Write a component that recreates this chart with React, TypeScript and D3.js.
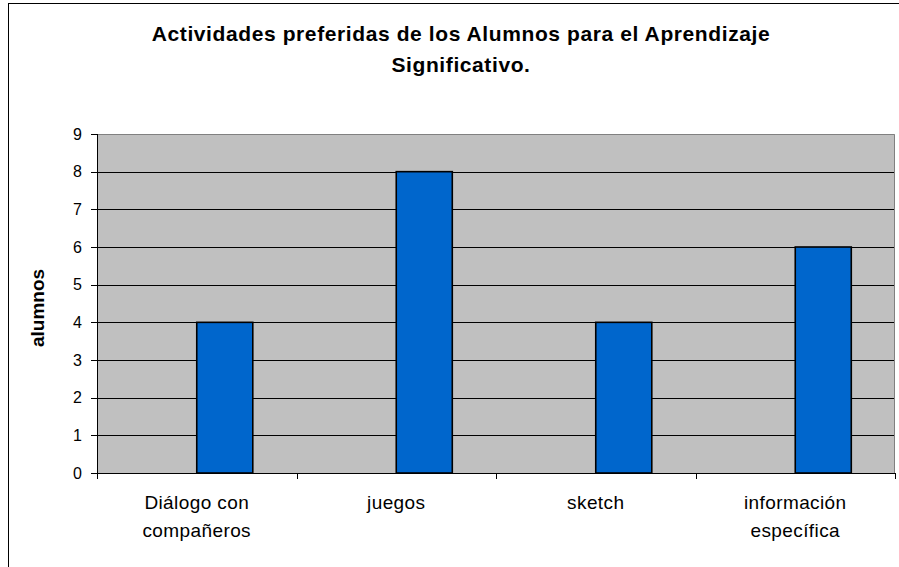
import React from "react";
import * as d3 from "d3";

const categories: string[][] = [
  ["Diálogo con", "compañeros"],
  ["juegos"],
  ["sketch"],
  ["información", "específica"],
];
const values: number[] = [4, 8, 4, 6];
const seriesNames: string[] = ["", "alumnos"];
const yTicks: number[] = [0, 1, 2, 3, 4, 5, 6, 7, 8, 9];
const titleLines: string[] = [
  "Actividades preferidas de los Alumnos para el Aprendizaje",
  "Significativo.",
];
const yAxisLabel = "alumnos";

const W = 899;
const H = 567;
const FONT = "'Liberation Sans', Arial, Helvetica, sans-serif";

export default function App() {
  const left = 97;
  const right = 895;
  const top = 134;
  const bottom = 473;

  const keys = categories.map((c) => c.join(" "));
  const x = d3.scaleBand<string>().domain(keys).range([left, right]).padding(0);
  const x1 = d3
    .scaleBand<string>()
    .domain(seriesNames)
    .range([0, x.bandwidth()])
    .paddingInner(0)
    .paddingOuter(0.78);
  const y = d3.scaleLinear().domain([0, 9]).range([bottom, top]);

  const boundaries = [...keys.map((k) => x(k) as number), right];

  return (
    <svg
      width={W}
      height={H}
      style={{ position: "absolute", left: 0, top: 0, display: "block" }}
      fontFamily={FONT}
    >
      <rect x={0} y={0} width={W} height={H} fill="#ffffff" />
      {/* outer chart border */}
      <rect x={8.5} y={3.5} width={W + 20} height={H + 20} fill="none" stroke="#000" strokeWidth={1} />

      {/* title */}
      {titleLines.map((t, i) => (
        <text
          key={i}
          x={461}
          y={41 + i * 31}
          textAnchor="middle"
          fontSize={21}
          fontWeight="bold"
          letterSpacing={0.6}
          fill="#000"
        >
          {t}
        </text>
      ))}

      {/* plot area */}
      <rect x={left} y={top} width={right - left} height={bottom - top} fill="#C0C0C0" />
      {/* gridlines */}
      {yTicks.slice(1, -1).map((t) => (
        <line key={t} x1={left} x2={right} y1={Math.round(y(t)) + 0.5} y2={Math.round(y(t)) + 0.5} stroke="#000" strokeWidth={1} />
      ))}
      {/* plot border top & right */}
      <path
        d={`M${left},${top + 0.5}H${right - 0.5}V${bottom}`}
        fill="none"
        stroke="#808080"
        strokeWidth={1}
      />

      {/* bars */}
      {values.map((v, i) => {
        const bx = (x(keys[i]) as number) + (x1("alumnos") as number);
        return (
          <rect
            key={i}
            x={bx}
            y={y(v)}
            width={x1.bandwidth()}
            height={y(0) - y(v)}
            fill="#0066CC"
            stroke="#000"
            strokeWidth={1.6}
          />
        );
      })}

      {/* axes */}
      <line x1={left + 0.5} x2={left + 0.5} y1={top} y2={bottom + 6} stroke="#000" strokeWidth={1} />
      <line x1={left - 6} x2={right} y1={bottom + 0.5} y2={bottom + 0.5} stroke="#000" strokeWidth={1} />
      {yTicks.map((t) => (
        <g key={t}>
          <line x1={left - 6} x2={left} y1={Math.round(y(t)) + 0.5} y2={Math.round(y(t)) + 0.5} stroke="#000" />
          <text x={82} y={y(t)} dy="0.36em" textAnchor="end" fontSize={16} fill="#000">
            {t}
          </text>
        </g>
      ))}
      {boundaries.map((b, i) => (
        <line key={i} x1={Math.round(b) + 0.5} x2={Math.round(b) + 0.5} y1={bottom} y2={bottom + 6} stroke="#000" />
      ))}
      {categories.map((lines, i) => (
        <text
          key={i}
          x={(x(keys[i]) as number) + x.bandwidth() / 2}
          y={509}
          textAnchor="middle"
          fontSize={19}
          letterSpacing={0.4}
          fill="#000"
        >
          {lines.map((l, j) => (
            <tspan key={j} x={(x(keys[i]) as number) + x.bandwidth() / 2} dy={j === 0 ? 0 : 28}>
              {l}
            </tspan>
          ))}
        </text>
      ))}

      {/* y axis label */}
      <text
        transform={`translate(44, ${308}) rotate(-90)`}
        textAnchor="middle"
        fontSize={19}
        fontWeight="bold"
        fill="#000"
      >
        {yAxisLabel}
      </text>
    </svg>
  );
}
